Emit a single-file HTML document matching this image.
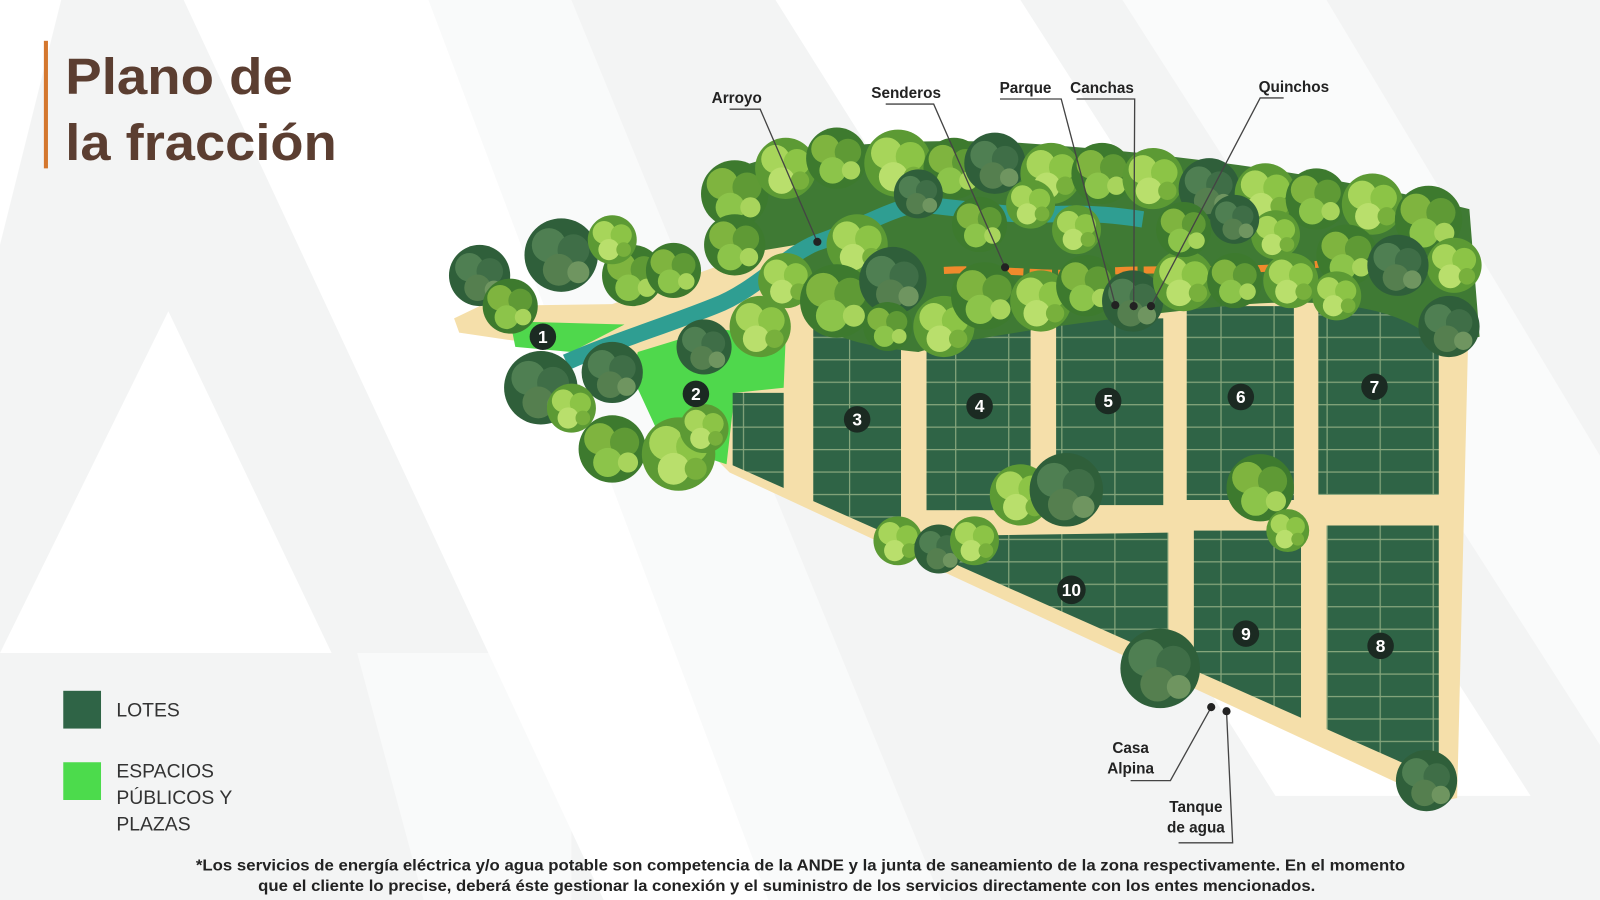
<!DOCTYPE html>
<html><head><meta charset="utf-8"><style>
html,body{margin:0;padding:0;background:#fff}
svg{display:block}
text{font-family:"Liberation Sans",sans-serif}
</style></head><body>
<svg width="1600" height="900" viewBox="0 0 1600 900" xmlns="http://www.w3.org/2000/svg">
<defs>
<pattern id="lots" width="52" height="22" patternUnits="userSpaceOnUse">
<rect width="52" height="22" fill="#2f6446"/>
<path d="M0 0.5H52M0.5 0V22" stroke="#86a67c" stroke-width="1.4"/>
</pattern>
<clipPath id="diag"><polygon points="700,448 1425,770 1425,200 700,200"/></clipPath>
<g id="tD"><circle r="30" fill="#2f5f3a"/><circle cx="-10" cy="-8" r="14" fill="#4f7f52"/><circle cx="10" cy="-4" r="13" fill="#3f6e47"/><circle cx="-2" cy="12" r="13" fill="#557f4f"/><circle cx="14" cy="14" r="9" fill="#6f9560"/></g>
<g id="tM"><circle r="30" fill="#3d7a2e"/><circle cx="-11" cy="-9" r="14" fill="#7fb43f"/><circle cx="11" cy="-6" r="13" fill="#5f9a35"/><circle cx="-4" cy="12" r="13" fill="#8cc44a"/><circle cx="14" cy="12" r="9" fill="#a8d45c"/></g>
<g id="tL"><circle r="30" fill="#5c9a34"/><circle cx="-10" cy="-9" r="14" fill="#a7d55a"/><circle cx="11" cy="-6" r="13" fill="#8cc446"/><circle cx="-4" cy="12" r="13" fill="#b9df6c"/><circle cx="14" cy="12" r="9" fill="#78b03c"/></g>
</defs>
<rect width="1600" height="900" fill="#f3f4f4"/>
<g transform="scale(1.0204)">
<polygon points="165,305 325,640 0,640" fill="#fff"/>
<polygon points="0,0 60,0 0,240" fill="#fff"/>
<polygon points="180,0 420,0 760,900 600,900" fill="#fff"/>
<polygon points="420,0 560,0 930,900 760,900" fill="#fff" opacity=".5"/>
<polygon points="760,0 1000,0 1500,780 1250,780" fill="#fff"/>
<polygon points="1100,0 1300,0 1600,500 1600,780" fill="#fff" opacity=".6"/>
<polygon points="350,640 560,640 560,900 420,900" fill="#fff" opacity=".5"/>
<rect x="43" y="40" width="4" height="125" fill="#d4772e"/>
<text x="64" y="92" font-size="50" font-weight="bold" fill="#5b3e31" textLength="223" lengthAdjust="spacingAndGlyphs">Plano de</text>
<text x="64" y="157" font-size="50" font-weight="bold" fill="#5b3e31" textLength="266" lengthAdjust="spacingAndGlyphs">la fracción</text>
<polygon points="445,312 470,300 600,298 700,262 770,225 800,220 1440,282 1428,782 1410,786 715,463 600,348 450,326" fill="#f5dfaa"/>
<polygon points="500,315 612,318 560,345 505,340" fill="#4fd84c"/>
<polygon points="625,345 700,322 770,330 768,380 720,385 712,455 650,435 620,370" fill="#4fd84c"/>
<g clip-path="url(#diag)">
<rect x="718" y="385" width="50" height="110" fill="url(#lots)"/>
<rect x="797" y="318" width="86" height="210" fill="url(#lots)"/>
<rect x="908" y="318" width="102" height="182" fill="url(#lots)"/>
<rect x="1035" y="312" width="105" height="183" fill="url(#lots)"/>
<rect x="1163" y="300" width="105" height="190" fill="url(#lots)"/>
<rect x="1292" y="290" width="118" height="195" fill="url(#lots)"/>
<polygon points="940,525 1145,522 1145,700 900,600" fill="url(#lots)"/>
<rect x="1170" y="520" width="105" height="230" fill="url(#lots)"/>
<rect x="1300" y="515" width="110" height="260" fill="url(#lots)"/>
</g>
<!-- canopy backing (right of stream) -->
<path d="M700,175 C760,140 900,135 1000,140 C1150,150 1300,170 1440,205 L1450,330 L1410,340 C1380,300 1300,290 1200,300 C1100,310 950,330 900,345 C850,340 800,330 785,300 L780,240 L720,250 Z" fill="#3f7a34"/>
<path d="M555,355 C600,335 650,320 700,300 C740,285 770,250 800,238 C840,225 870,205 900,200 C950,205 990,212 1030,210 C1070,208 1100,212 1120,215" stroke="#2f9e92" stroke-width="16" fill="none"/>
<path d="M925,265 C980,262 1030,272 1080,266 C1150,262 1220,268 1300,258" stroke="#f08a2c" stroke-width="7" fill="none" stroke-dasharray="22 6"/>
<g>
<use href="#tD" transform="translate(470,270) scale(1)"/>
<use href="#tD" transform="translate(550,250) scale(1.2)"/>
<use href="#tM" transform="translate(500,300) scale(.9)"/>
<use href="#tM" transform="translate(620,270) scale(1)"/>
<use href="#tL" transform="translate(600,235) scale(.8)"/>
<use href="#tD" transform="translate(530,380) scale(1.2)"/>
<use href="#tD" transform="translate(600,365) scale(1)"/>
<use href="#tM" transform="translate(600,440) scale(1.1)"/>
<use href="#tL" transform="translate(665,445) scale(1.2)"/>
<use href="#tL" transform="translate(690,420) scale(.8)"/>
<use href="#tL" transform="translate(560,400) scale(.8)"/>
<use href="#tD" transform="translate(690,340) scale(.9)"/>
<use href="#tL" transform="translate(745,320) scale(1)"/>
<use href="#tM" transform="translate(660,265) scale(.9)"/>
<use href="#tM" transform="translate(720,190) scale(1.1)"/>
<use href="#tL" transform="translate(770,165) scale(1)"/>
<use href="#tM" transform="translate(820,155) scale(1)"/>
<use href="#tL" transform="translate(880,160) scale(1.1)"/>
<use href="#tM" transform="translate(935,165) scale(1)"/>
<use href="#tD" transform="translate(975,160) scale(1)"/>
<use href="#tL" transform="translate(1030,170) scale(1)"/>
<use href="#tM" transform="translate(1080,170) scale(1)"/>
<use href="#tL" transform="translate(1130,175) scale(1)"/>
<use href="#tD" transform="translate(1185,185) scale(1)"/>
<use href="#tL" transform="translate(1240,190) scale(1)"/>
<use href="#tM" transform="translate(1290,195) scale(1)"/>
<use href="#tL" transform="translate(1345,200) scale(1)"/>
<use href="#tM" transform="translate(1400,215) scale(1.1)"/>
<use href="#tL" transform="translate(1425,260) scale(.9)"/>
<use href="#tD" transform="translate(1420,320) scale(1)"/>
<use href="#tM" transform="translate(720,240) scale(1)"/>
<use href="#tL" transform="translate(770,275) scale(.9)"/>
<use href="#tL" transform="translate(840,240) scale(1)"/>
<use href="#tM" transform="translate(1320,250) scale(1)"/>
<use href="#tD" transform="translate(1370,260) scale(1)"/>
<use href="#tM" transform="translate(820,295) scale(1.2)"/>
<use href="#tD" transform="translate(875,275) scale(1.1)"/>
<use href="#tL" transform="translate(925,320) scale(1)"/>
<use href="#tM" transform="translate(965,290) scale(1.1)"/>
<use href="#tL" transform="translate(1020,295) scale(1)"/>
<use href="#tM" transform="translate(1065,280) scale(1)"/>
<use href="#tD" transform="translate(1110,295) scale(1)"/>
<use href="#tL" transform="translate(1160,275) scale(1)"/>
<use href="#tM" transform="translate(1210,275) scale(.9)"/>
<use href="#tL" transform="translate(1265,275) scale(.9)"/>
<use href="#tM" transform="translate(960,220) scale(.9)"/>
<use href="#tL" transform="translate(1055,225) scale(.8)"/>
<use href="#tM" transform="translate(1160,225) scale(.9)"/>
<use href="#tL" transform="translate(1250,230) scale(.8)"/>
<use href="#tD" transform="translate(900,190) scale(.8)"/>
<use href="#tL" transform="translate(1010,200) scale(.8)"/>
<use href="#tD" transform="translate(1210,215) scale(.8)"/>
<use href="#tL" transform="translate(1310,290) scale(.8)"/>
<use href="#tM" transform="translate(870,320) scale(.8)"/>
<use href="#tL" transform="translate(1000,485) scale(1)"/>
<use href="#tD" transform="translate(1045,480) scale(1.2)"/>
<use href="#tM" transform="translate(1235,478) scale(1.1)"/>
<use href="#tL" transform="translate(1262,520) scale(.7)"/>
<use href="#tL" transform="translate(880,530) scale(.8)"/>
<use href="#tD" transform="translate(920,538) scale(.8)"/>
<use href="#tL" transform="translate(955,530) scale(.8)"/>
<use href="#tD" transform="translate(1137,655) scale(1.3)"/>
<use href="#tD" transform="translate(1398,765) scale(1)"/>
</g>
<g font-size="17" font-weight="bold" fill="#fff" text-anchor="middle">
<circle cx="532" cy="330" r="13" fill="#1b2a22"/><text x="532" y="336">1</text>
<circle cx="682" cy="386" r="13" fill="#1b2a22"/><text x="682" y="392">2</text>
<circle cx="840" cy="411" r="13" fill="#1b2a22"/><text x="840" y="417">3</text>
<circle cx="960" cy="398" r="13" fill="#1b2a22"/><text x="960" y="404">4</text>
<circle cx="1086" cy="393" r="13" fill="#1b2a22"/><text x="1086" y="399">5</text>
<circle cx="1216" cy="389" r="13" fill="#1b2a22"/><text x="1216" y="395">6</text>
<circle cx="1347" cy="379" r="13" fill="#1b2a22"/><text x="1347" y="385">7</text>
<circle cx="1353" cy="633" r="13" fill="#1b2a22"/><text x="1353" y="639">8</text>
<circle cx="1221" cy="621" r="13" fill="#1b2a22"/><text x="1221" y="627">9</text>
<circle cx="1050" cy="578" r="14" fill="#1b2a22"/><text x="1050" y="584">10</text>
</g>
<g stroke="#444" stroke-width="1.3" fill="none">
<path d="M715,107H745L801,237"/>
<path d="M868,102H915L985,262"/>
<path d="M980,97H1040L1093,299"/>
<path d="M1055,97H1112L1111,300"/>
<path d="M1258,96H1235L1128,300"/>
<path d="M1108,765H1147L1187,693"/>
<path d="M1155,826H1208L1202,697"/>
</g>
<g fill="#222"><circle cx="801" cy="237" r="4"/><circle cx="985" cy="262" r="4"/><circle cx="1093" cy="299" r="4"/><circle cx="1111" cy="300" r="4"/><circle cx="1128" cy="300" r="4"/><circle cx="1187" cy="693" r="4"/><circle cx="1202" cy="697" r="4"/></g>
<g font-size="15" font-weight="bold" fill="#222" text-anchor="middle">
<text x="722" y="101">Arroyo</text>
<text x="888" y="96">Senderos</text>
<text x="1005" y="91">Parque</text>
<text x="1080" y="91">Canchas</text>
<text x="1268" y="90">Quinchos</text>
<text x="1108" y="738">Casa</text>
<text x="1108" y="758">Alpina</text>
<text x="1172" y="796">Tanque</text>
<text x="1172" y="816">de agua</text>
</g>
<rect x="62" y="677" width="37" height="37" fill="#2f6446"/>
<rect x="62" y="747" width="37" height="37" fill="#4cdb4c"/>
<g font-size="19" fill="#333">
<text x="114" y="702">LOTES</text>
<text x="114" y="762">ESPACIOS</text>
<text x="114" y="788">PÚBLICOS Y</text>
<text x="114" y="814">PLAZAS</text>
</g>
<g font-size="15" font-weight="bold" fill="#222">
<text x="192" y="853" textLength="1185" lengthAdjust="spacingAndGlyphs">*Los servicios de energía eléctrica y/o agua potable son competencia de la ANDE y la junta de saneamiento de la zona respectivamente. En el momento</text>
<text x="253" y="873" textLength="1036" lengthAdjust="spacingAndGlyphs">que el cliente lo precise, deberá éste gestionar la conexión y el suministro de los servicios directamente con los entes mencionados.</text>
</g>
</g>
</svg>
</body></html>
